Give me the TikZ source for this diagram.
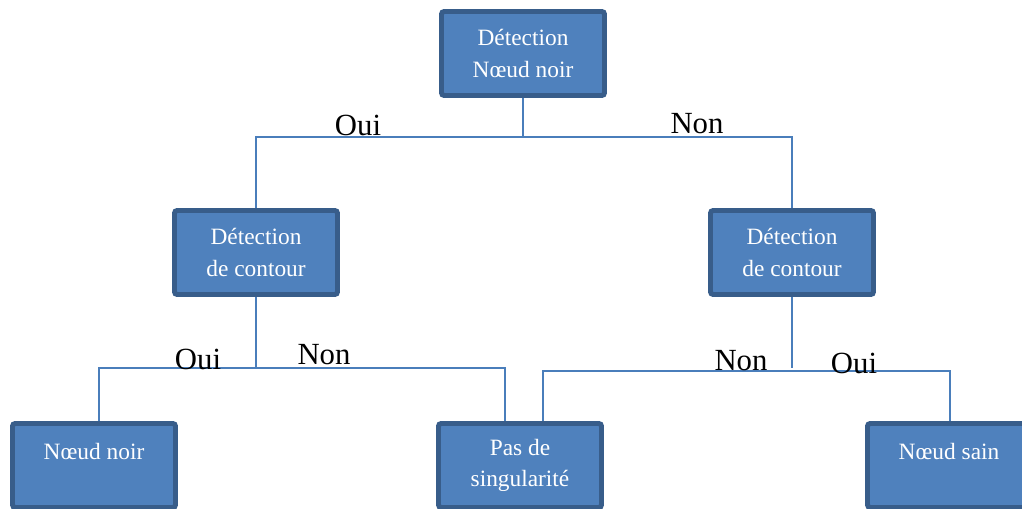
\documentclass[tikz,border=0pt]{standalone}
\usepackage{fontspec}
\setmainfont{Liberation Serif}
\usepackage{tikz}
\usetikzlibrary{positioning,calc}
\definecolor{boxfill}{RGB}{79,129,189}
\definecolor{boxline}{RGB}{56,93,138}
\definecolor{linkblue}{RGB}{74,126,187}
\tikzstyle{decision}=[rectangle,rounded corners=1.5pt,fill=boxfill,draw=boxline,
                line width=2.8pt,minimum width=3.26cm,minimum height=1.68cm,
                inner sep=0pt,text=white,align=center,
                font=\fontsize{13.3}{18}\selectfont]
\tikzstyle{leaf}=[decision,text height=9.5pt,text depth=16pt]
\tikzstyle{link}=[draw=linkblue,line width=1.1pt]
\tikzstyle{answer}=[anchor=base,inner sep=0pt,font=\fontsize{17.5}{20}\selectfont]

\begin{document}
\begin{tikzpicture}

% % % % % % % % % % % % % % %

\useasboundingbox (0,0) rectangle (20.44,10.16);
\clip (0,0) rectangle (20.44,10.16);

\node[decision] (top) at (10.46,9.09) {Détection\\Nœud noir};
\node[decision] (lmid) at (5.12,5.11) {Détection\\de contour};
\node[decision] (rmid) at (15.84,5.11) {Détection\\de contour};

\node[leaf] (bl) at (1.88,0.85) {Nœud noir};
\node[decision] (bm) at (10.40,0.85) {Pas de\\singularité};
\node[leaf] (br) at (18.98,0.85) {Nœud sain};

\coordinate (tbus) at (10.46,7.42);
\coordinate (lbus) at (5.12,2.80);
\coordinate (rbus) at (15.84,2.74);

\draw[link] (top.south) -- (top.south |- tbus);
\draw[link] (lmid.north) |- (tbus) -| (rmid.north);

\draw[link] (lmid.south) -- (lmid.south |- lbus);
\draw[link] ([xshift=0.10cm]bl.north) |- (lbus) -| ([xshift=-0.30cm]bm.north);

\draw[link] (rmid.south) -- (rmid.south |- lbus);
\draw[link] ([xshift=0.46cm]bm.north) |- (rbus) -| ([xshift=0.02cm]br.north);

\node[answer] (oui1) at (7.16,7.44) {Oui};
\node[answer] (non1) at (13.94,7.48) {Non};
\node[answer] (oui2) at (3.96,2.76) {Oui};
\node[answer] (non2) at (6.48,2.86) {Non};
\node[answer] (non3) at (14.82,2.74) {Non};
\node[answer] (oui3) at (17.08,2.70) {Oui};

\end{tikzpicture}
\end{document}
